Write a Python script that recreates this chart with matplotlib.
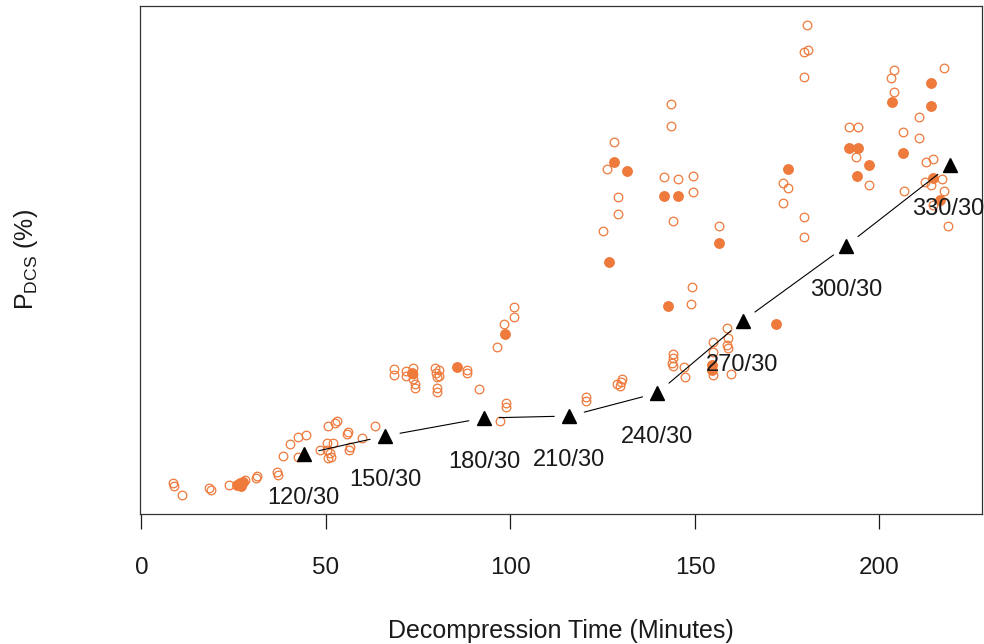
import matplotlib
matplotlib.use('Agg')
import matplotlib.pyplot as plt

plt.rcParams['font.family'] = ['Liberation Sans', 'DejaVu Sans']
plt.rcParams['mathtext.fontset'] = 'custom'
plt.rcParams['mathtext.rm'] = 'Liberation Sans'
plt.rcParams['mathtext.it'] = 'Liberation Sans:italic'
plt.rcParams['mathtext.bf'] = 'Liberation Sans:bold'

# ---- data ----
open_x = [8.5, 8.8, 10.9, 18.4, 18.8, 23.7, 28.0, 31.0, 31.2, 37.1, 36.8, 38.3, 40.2,
          42.5, 42.5, 44.6, 48.4, 50.2, 51.1, 51.5, 50.5, 50.2, 51.8, 50.6, 52.9, 52.4,
          56.0, 55.7, 56.5, 56.2, 59.8, 63.3,
          68.4, 68.4, 71.7, 71.7, 73.5, 73.7, 73.7, 74.1, 74.1, 79.5, 79.8, 80.0, 80.7,
          80.7, 80.0, 80.0, 88.1, 88.1, 91.5, 96.4, 98.3, 101.0, 101.0, 98.8, 98.8, 97.2,
          120.6, 120.6, 128.9, 129.7, 130.1, 129.9, 144.0, 144.1, 143.7, 144.1, 147.0,
          147.3, 154.8, 155.0, 155.0, 158.6, 159.0, 158.6, 159.0, 159.7, 148.9, 149.1,
          143.5, 143.5, 128.1, 126.3, 129.1, 129.1, 125.0, 141.7, 145.3, 149.4, 149.4,
          144.0, 156.6,
          180.5, 179.6, 180.7, 179.6, 204.0, 203.1, 204.0, 217.6, 210.8, 191.8, 194.1,
          206.3, 210.8, 193.6, 212.6, 214.4, 197.2, 173.8, 175.3, 173.8, 179.6, 179.6,
          206.7, 212.3, 216.9, 217.6, 214.1, 214.6, 218.5]
open_y = [1.55, 1.4, 0.95, 1.3, 1.2, 1.45, 1.7, 1.8, 1.9, 1.95, 2.1, 2.9, 3.5,
          2.85, 3.85, 3.95, 3.2, 3.2, 3.05, 2.85, 2.8, 3.55, 3.55, 4.4, 4.65, 4.55,
          4.1, 4.0, 3.35, 3.2, 3.8, 4.4,
          7.25, 6.95, 7.15, 6.9, 7.3, 7.0, 6.75, 6.5, 6.3, 7.3, 7.05, 6.85, 7.2,
          6.9, 6.3, 6.1, 7.2, 7.05, 6.25, 8.35, 9.5, 9.85, 10.35, 5.55, 5.35, 4.65,
          5.85, 5.65, 6.5, 6.4, 6.75, 6.6, 8.0, 7.8, 7.55, 7.4, 7.35,
          6.85, 8.6, 8.1, 6.95, 9.3, 8.8, 8.45, 8.3, 7.0, 10.5, 11.35,
          20.5, 19.4, 18.6, 17.25, 15.85, 15.0, 14.15, 16.85, 16.75, 16.9, 16.1,
          14.65, 14.4,
          24.45, 23.1, 23.2, 21.85, 22.2, 21.8, 21.1, 22.3, 19.85, 19.35, 19.35,
          19.1, 18.8, 17.85, 17.6, 17.75, 16.45, 16.55, 16.3, 15.55, 14.85, 13.85,
          16.15, 16.6, 16.75, 16.15, 16.45, 15.45, 14.4]

filled_x = [26.0, 26.7, 27.6, 26.9, 73.2, 85.6, 98.5, 142.8, 154.5, 154.5,
            128.1, 131.5, 126.8, 141.7, 145.3, 156.6, 172.1,
            203.3, 213.9, 213.9, 191.8, 194.3, 197.2, 206.3, 193.8, 175.3, 214.4, 216.4]
filled_y = [1.45, 1.55, 1.6, 1.4, 7.05, 7.35, 9.0, 10.4, 7.45, 7.2,
            17.6, 17.15, 12.6, 15.9, 15.9, 13.55, 9.5,
            20.6, 21.55, 20.4, 18.3, 18.3, 17.45, 18.05, 16.9, 17.25, 16.8, 15.7]

tri_x = [44.0, 66.0, 92.8, 116.0, 139.8, 162.9, 190.9, 219.1]
tri_y = [3.0, 3.9, 4.8, 4.9, 6.05, 9.65, 13.4, 17.45]
tri_labels = ['120/30', '150/30', '180/30', '210/30', '240/30', '270/30', '300/30', '330/30']

x_ticks = [0, 50, 100, 150, 200]

orange = '#EE7A3C'

fig = plt.figure(figsize=(9.84, 6.44), dpi=100)
ax = fig.add_axes([140 / 984, 1 - 514 / 644, 842 / 984, 508 / 644])

ax.plot(open_x, open_y, 'o', ms=6.2, mfc='none', mec=orange, mew=0.9, zorder=2)
ax.plot(filled_x, filled_y, 'o', ms=6.8, color=orange, mec=orange, zorder=2)

for i in range(len(tri_x) - 1):
    ax.annotate('', xy=(tri_x[i + 1], tri_y[i + 1]), xytext=(tri_x[i], tri_y[i]),
                arrowprops=dict(arrowstyle='-', shrinkA=11, shrinkB=11, lw=0.8,
                                color='black'), zorder=3)
ax.plot(tri_x, tri_y, '^', ms=10.5, color='black', zorder=4)

for x, y, lab in zip(tri_x, tri_y, tri_labels):
    ax.annotate(lab, (x, y), xytext=(-1 if lab == '330/30' else 0, -31.5),
                textcoords='offset points',
                ha='center', va='center', fontsize=17, color='#1a1a1a', zorder=5)

ax.set_xlim(-0.4, 227.8)
ax.set_ylim(0, 25.4)
ax.set_xticks(x_ticks)
ax.set_xticklabels([str(t) for t in x_ticks])
ax.set_yticks([])
ax.tick_params(axis='x', length=10.8, width=0.9, pad=20, labelsize=17.5,
               colors='#1a1a1a')
for s in ax.spines.values():
    s.set_linewidth(0.9)
    s.set_color('#333333')

ax.set_xlabel('Decompression Time (Minutes)', fontsize=18, labelpad=29, color='#1a1a1a')
ax.set_ylabel(r'P$_{\mathrm{DCS}}$ (%)', fontsize=18, color='#1a1a1a')
ax.yaxis.set_label_coords(-0.119, 0.5)

fig.savefig('out.png', dpi=100)
